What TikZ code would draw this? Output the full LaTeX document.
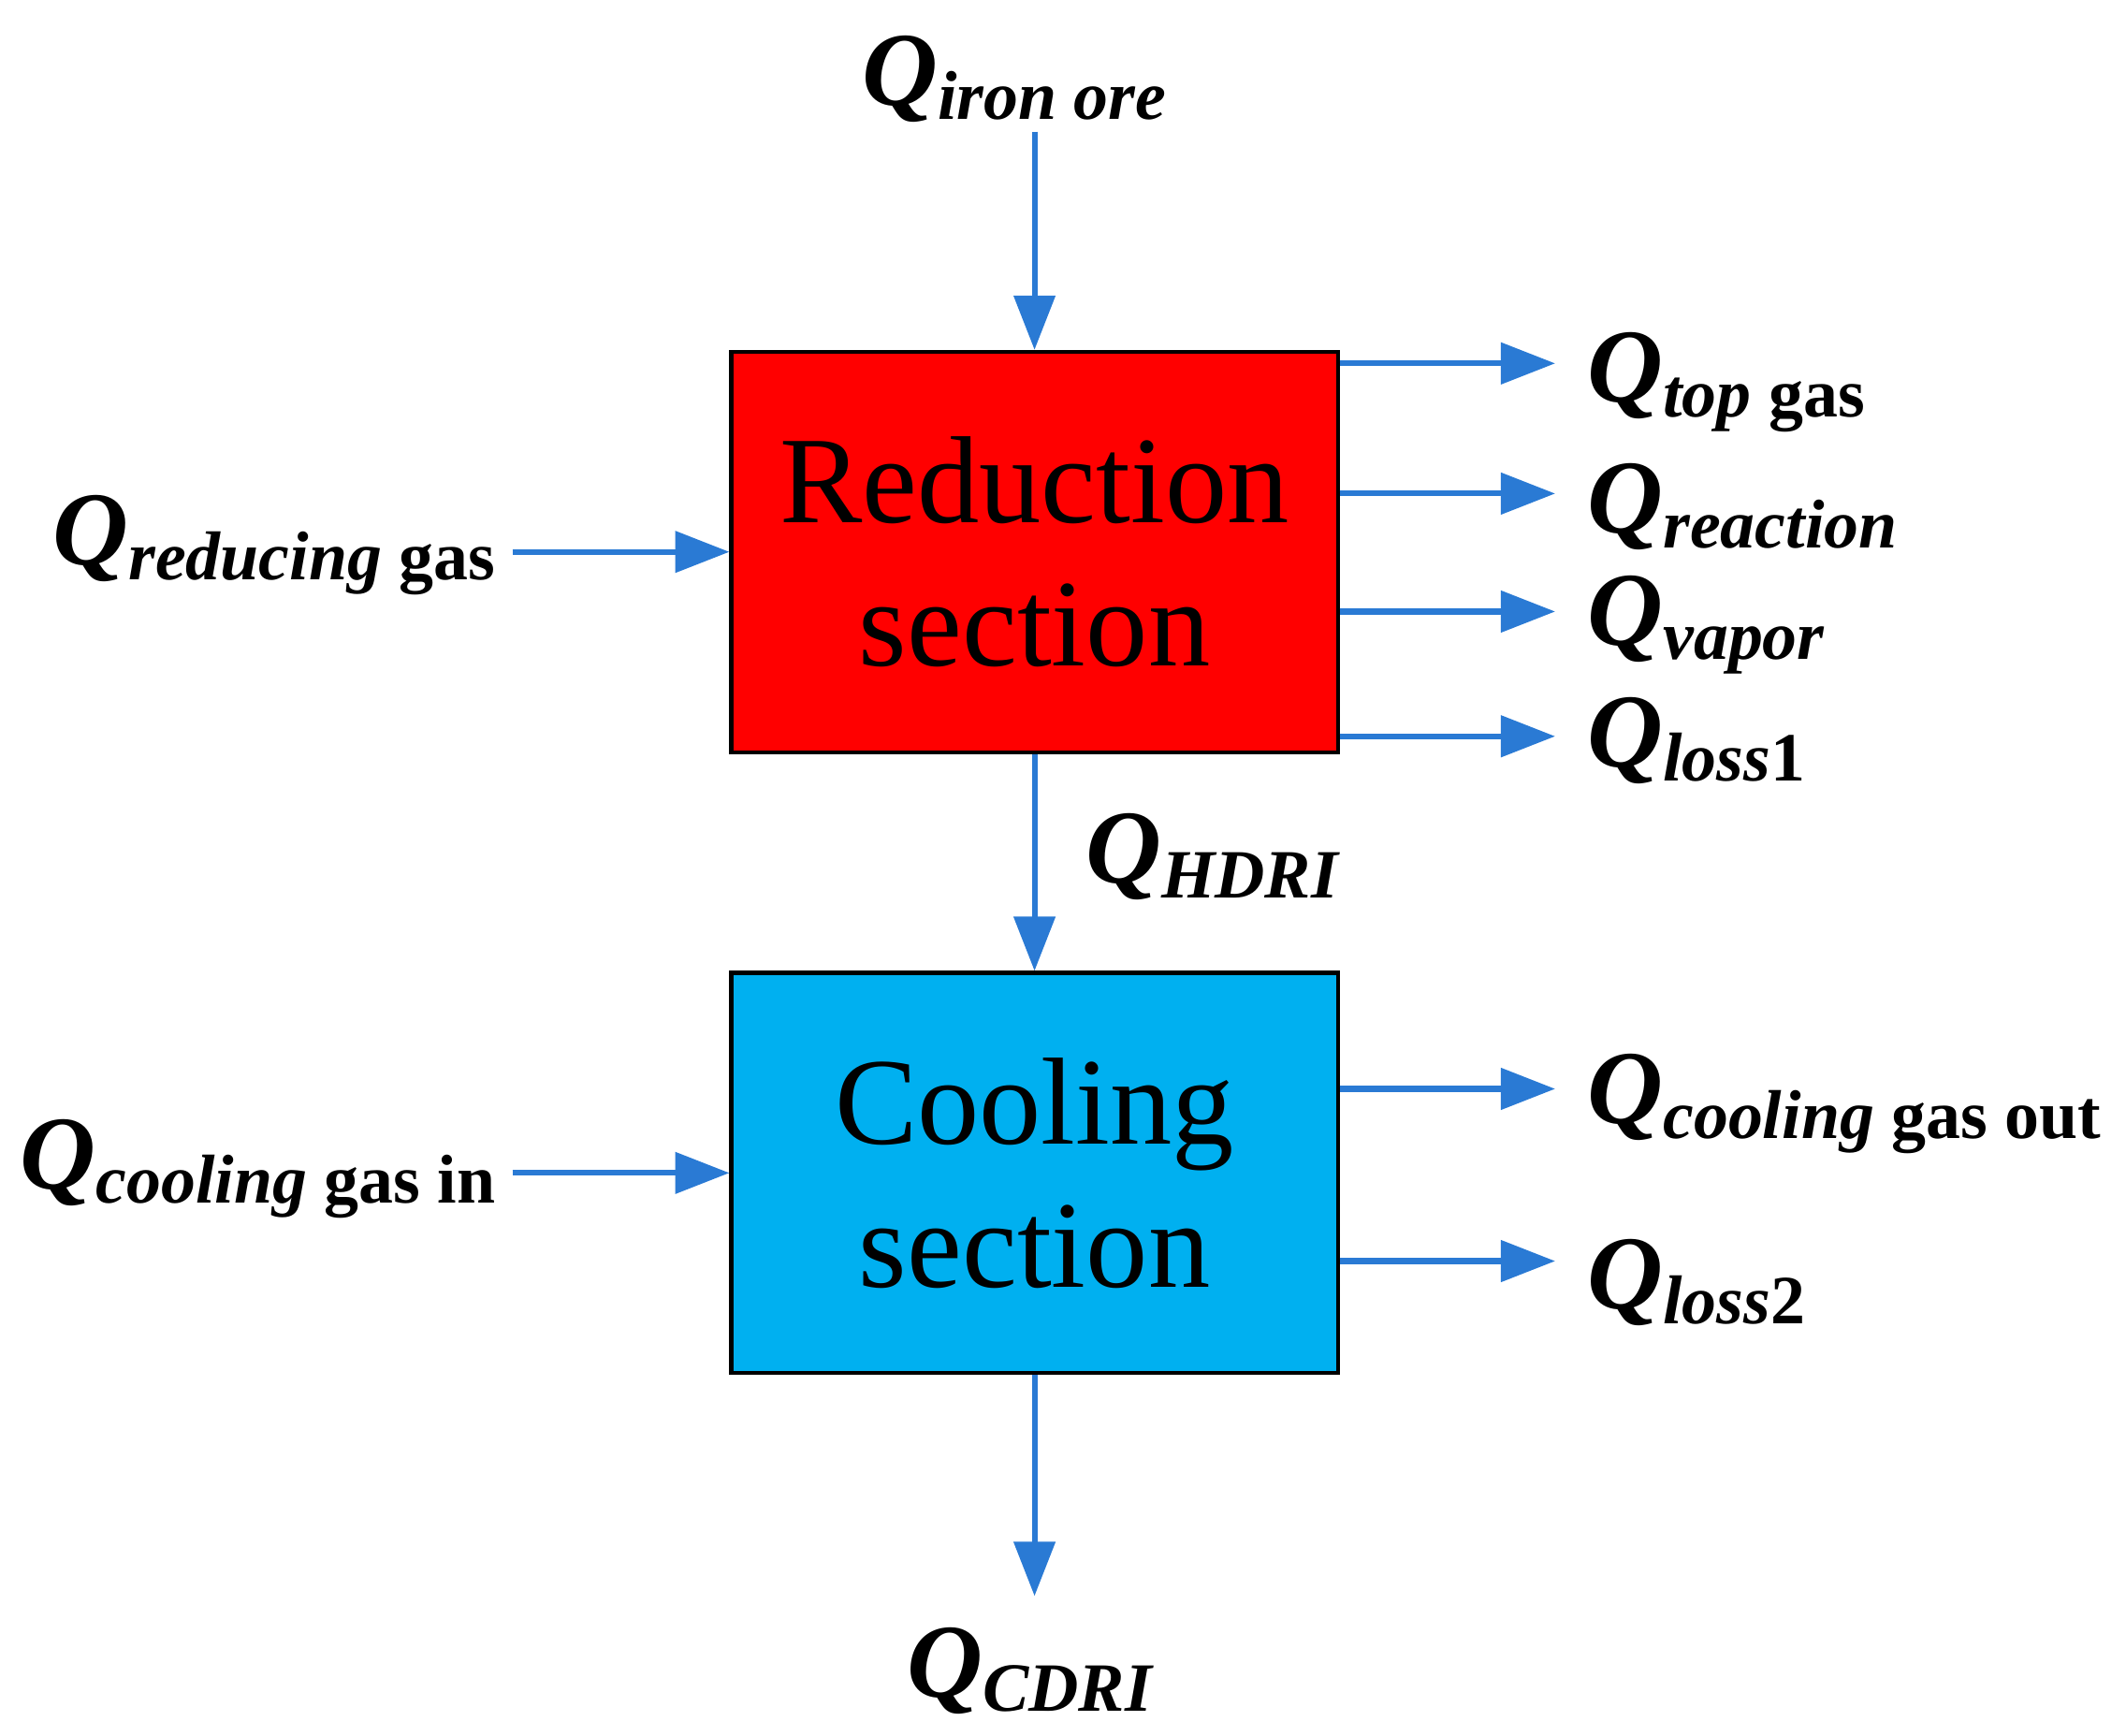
\documentclass[tikz,border=0pt]{standalone}
\usepackage{fontspec}
\setmainfont{Liberation Serif}
\usepackage{tikz}
\usetikzlibrary{arrows.meta, positioning}
\definecolor{flowblue}{RGB}{42,122,212}
\definecolor{redbox}{RGB}{255,0,0}
\definecolor{coolbox}{RGB}{0,176,240}
\newcommand\Qflow[1]{\bfseries\fontsize{22}{24}\selectfont\textit{Q}\raisebox{-0.3ex}{\fontsize{14.5}{16}\selectfont #1}}

\begin{document}
\begin{tikzpicture}[x=0.01cm, y=-0.01cm]
    \tikzset{
      section/.style={
        draw=black, thick,
        minimum width=4.47cm,
        minimum height=2.95cm,
        align=center,
        font=\fontsize{26}{26}\selectfont,
      },
      flow/.style={
        -{Triangle[length=0.4cm, width=0.3cm]},
        draw=flowblue, line width=1.2pt,
      },
      lbl/.style={inner sep=0pt}
    }
    \useasboundingbox (0,0) rectangle (1568,1280);

    % sections
    \node[section, fill=redbox]  (red)  at (763,407) {Reduction\\[4pt]section};
    \node[section, fill=coolbox] (cool) at (763,865) {Cooling\\[4pt]section};

    % labels
    \node[lbl] (ore)     at (748,58)               {\Qflow{\textit{iron ore}}};
    \node[lbl, anchor=east] (redgas)  at (366,402) {\Qflow{\textit{reducing} gas}};
    \node[lbl, anchor=west] (topgas)  at (1170,282) {\Qflow{\textit{top} gas}};
    \node[lbl, anchor=west] (react)   at (1170,374) {\Qflow{\textit{reaction}}};
    \node[lbl, anchor=west] (vapor)   at (1170,461) {\Qflow{\textit{vapor}}};
    \node[lbl, anchor=west] (loss1)   at (1170,546) {\Qflow{\textit{loss}1}};
    \node[lbl, anchor=west] (hdri)    at (800,632)  {\Qflow{\textit{HDRI}}};
    \node[lbl, anchor=east] (coolin)  at (366,862) {\Qflow{\textit{cooling} gas in}};
    \node[lbl, anchor=west] (coolout) at (1170,814) {\Qflow{\textit{cooling} gas out}};
    \node[lbl, anchor=west] (loss2)   at (1170,946) {\Qflow{\textit{loss}2}};
    \node[lbl] (cdri)    at (760,1232)             {\Qflow{\textit{CDRI}}};

    % free ends
    \coordinate (oreS)  at (763,97);
    \coordinate (cdriN) at (763,1177);
    \coordinate (outR)  at (1147,0);

    % flows
    \draw[flow] (oreS) -- (red.north);
    \draw[flow] (378,407) -- (red.west);
    \draw[flow] (red.east |- 0,268) -- (outR |- 0,268);
    \draw[flow] (red.east |- 0,364) -- (outR |- 0,364);
    \draw[flow] (red.east |- 0,451) -- (outR |- 0,451);
    \draw[flow] (red.east |- 0,543) -- (outR |- 0,543);
    \draw[flow] (red.south) -- (cool.north);
    \draw[flow] (378,865) -- (cool.west);
    \draw[flow] (cool.east |- 0,803) -- (outR |- 0,803);
    \draw[flow] (cool.east |- 0,930) -- (outR |- 0,930);
    \draw[flow] (cool.south) -- (cdriN);
\end{tikzpicture}
\end{document}
